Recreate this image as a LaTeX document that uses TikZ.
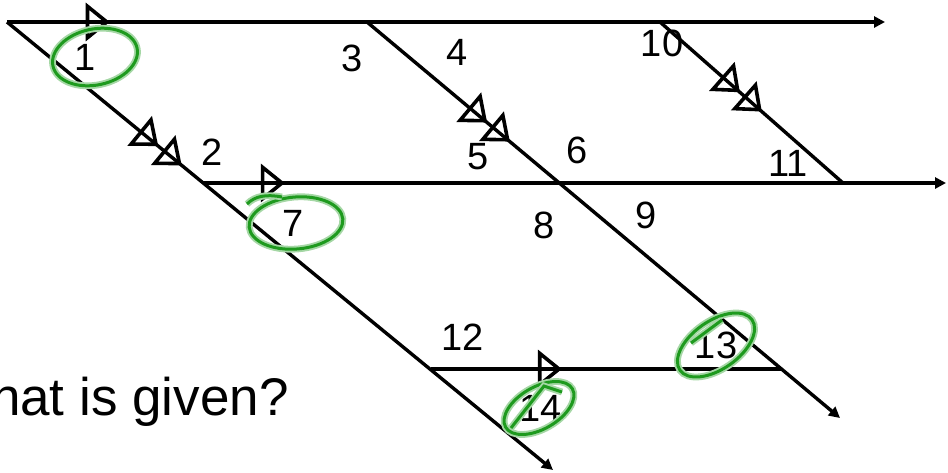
\documentclass[tikz,border=0pt]{standalone}
\usepackage{fontspec}
\setmainfont{Liberation Sans}
\usetikzlibrary{arrows.meta, shapes.geometric, decorations.markings}
\definecolor{cline}{HTML}{000000}
\definecolor{cgreen}{HTML}{1E9A1E}

\begin{document}
\begin{tikzpicture}[
  x=0.5pt, y=-0.5pt,
  font=\fontsize{19}{23}\selectfont,
  line/.style={line width=1.7pt, draw=cline},
  ray/.style={line, -{Triangle[length=5.5pt, width=5.5pt]}},
  tick/.style={postaction={decorate, decoration={markings,
      mark=at position #1 with {\arrow{Triangle[open, length=12pt, width=19pt, line width=1.8pt]}}}}},
  ticktwo/.style 2 args={tick=#1, postaction={decorate, decoration={markings,
      mark=at position #2 with {\arrow{Triangle[open, length=12pt, width=19pt, line width=1.8pt]}}}}},
  num/.style={inner sep=0pt},
  circled/.style={draw=cgreen, line width=1.5pt, preaction={draw=cgreen!40, line width=3.4pt}},
  loop/.style={ellipse, circled, inner sep=0pt},
  ]
\useasboundingbox (0,0) rectangle (948,472);

% points on the lines
\coordinate (A) at (7,22);
\coordinate (Atip) at (885,22);
\coordinate (B) at (367,22);
\coordinate (C) at (660,22);
\coordinate (D) at (204,183);
\coordinate (Dtip) at (946,183);
\coordinate (E) at (843,183);
\coordinate (P) at (431,369);
\coordinate (Q) at (782,369);
\coordinate (L) at (553,470);
\coordinate (M) at (840,418);

% parallel lines
\draw[ray, tick=0.117] (A) -- (Atip);
\draw[ray, tick=0.109] (D) -- (Dtip);
\draw[line, tick=0.373] (P) -- (Q);

% transversals
\draw[ray, ticktwo={0.277}{0.32}] (A) -- (L);
\draw[ray, ticktwo={0.254}{0.302}] (B) -- (M);
\draw[line, ticktwo={0.437}{0.557}] (C) -- (E);

% angle numbers
\node[num] (n1) at (85,57) {1};
\node[num] (n2) at (212,152) {2};
\node[num] (n3) at (352,58) {3};
\node[num] (n4) at (457,52) {4};
\node[num] (n5) at (478,157) {5};
\node[num] (n6) at (577,150) {6};
\node[num] (n7) at (293,223) {7};
\node[num] (n8) at (544,225) {8};
\node[num] (n9) at (646,215) {9};
\node[num] (n10) at (662,43) {10};
\node[num] (n11) at (788,163) {11};
\node[num] (n12) at (463,337) {12};
\node[num] (n13) at (716,345) {13};
\node[num] (n14) at (541,408) {14};

\node[inner sep=0pt, anchor=base east, font=\fontsize{26.5}{30}\selectfont] (ask) at (289,415) {What is given?};

% green marks
\node[loop, minimum width=43pt, minimum height=28pt, rotate=12] (o1) at (95,57) {};
\node[loop, minimum width=47pt, minimum height=26pt, rotate=5] (o7) at (296,223) {};
\node[loop, minimum width=44pt, minimum height=24pt, rotate=35] (o13) at (716,345) {};
\node[loop, minimum width=38.5pt, minimum height=21pt, rotate=30] (o14) at (539,408) {};
\draw[circled] (247,204) .. controls (255,196) and (266,194) .. (282,197);
\draw[circled] (691,343) -- (722,320);
\draw[circled] (511,428) -- (544,386) -- (562,392);
\end{tikzpicture}
\end{document}
